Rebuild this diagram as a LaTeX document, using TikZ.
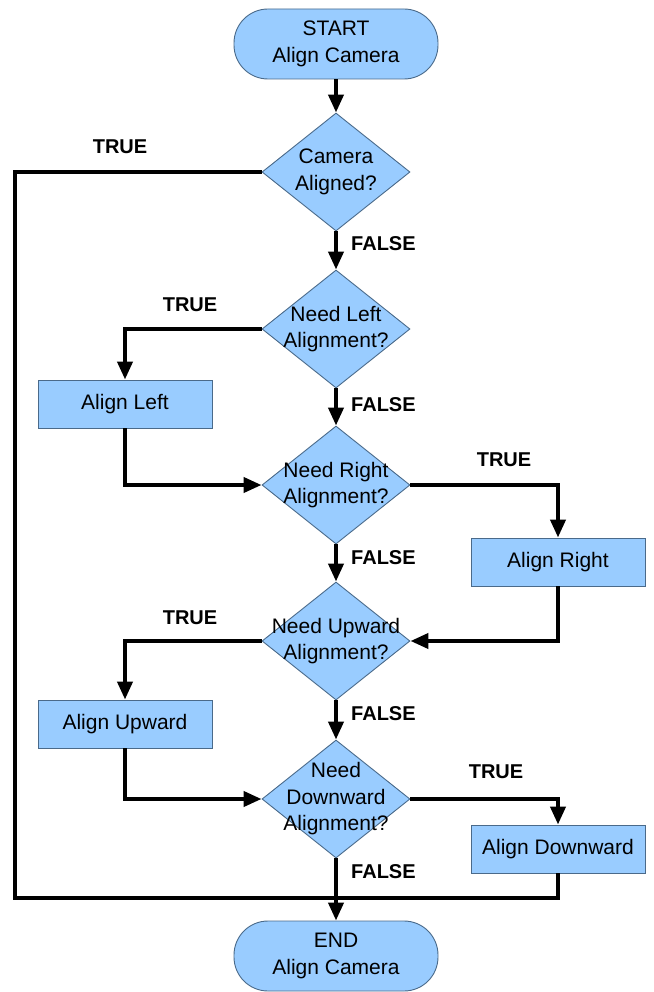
\documentclass[tikz,border=0pt]{standalone}
\usepackage{fontspec}
\setmainfont{Liberation Sans}
\usetikzlibrary{arrows.meta,shapes.geometric}
\definecolor{boxfill}{HTML}{99CCFF}
\definecolor{boxline}{HTML}{4A6A8A}
\begin{document}
\begin{tikzpicture}[x=1pt,y=-1pt,
  every node/.style={font=\fontsize{21}{26.5}\selectfont},
  term/.style={draw=boxline,fill=boxfill,line width=0.9pt,rounded corners=34pt,
    minimum width=204pt,minimum height=70pt,align=center,inner sep=0pt},
  proc/.style={draw=boxline,fill=boxfill,line width=0.9pt,
    minimum width=174pt,minimum height=48pt,inner sep=0pt},
  dia/.style={diamond,draw=boxline,fill=boxfill,line width=0.9pt,inner sep=0pt,
    minimum width=148pt,minimum height=118pt},
  dtext/.style={align=center,inner sep=0pt,font=\fontsize{21}{26.5}\selectfont},
  flow/.style={line width=4pt},
  arr/.style={flow,-{Triangle[length=18pt,width=15pt]}},
  lbl/.style={font=\fontsize{20}{24}\selectfont\bfseries,inner sep=0pt}]
\useasboundingbox (0,0) rectangle (653,992);

% terminals
\node[term] (s) at (336,44) {START\\Align Camera};
\node[term] (e) at (336,956) {END\\Align Camera};

% decisions
\node[dia,label={[dtext]center:{Camera\\Aligned?}}] (d1) at (336,172) {};
\node[dia,label={[dtext]center:{Need Left\\Alignment?}}] (d2) at (336,329) {};
\node[dia,label={[dtext]center:{Need Right\\Alignment?}}] (d3) at (336,485) {};
\node[dia,label={[dtext]center:{Need Upward\\Alignment?}}] (d4) at (336,641) {};
\node[dia,label={[dtext]center:{Need\\Downward\\Alignment?}}] (d5) at (336,799) {};

% actions
\node[proc] (al) at (125,404) {Align Left};
\node[proc] (ar) at (558,562) {Align Right};
\node[proc] (au) at (125,724) {Align Upward};
\node[proc] (ad) at (558,849) {Align Downward};

% junction above END
\coordinate (j) at (336,898);
\coordinate (lc) at (15,898);

% main spine
\draw[arr] (s.south) -- (d1.north);
\draw[arr] (d1.south) -- (d2.north);
\draw[arr] (d2.south) -- (d3.north);
\draw[arr] (d3.south) -- (d4.north);
\draw[arr] (d4.south) -- (d5.north);
\draw[arr] (d5.south) -- (e.north);

% branches
\draw[flow] (d1.west) -| (lc) -- (j);
\draw[arr] (d2.west) -| (al.north);
\draw[arr] (al.south) |- (d3.west);
\draw[arr] (d3.east) -| (ar.north);
\draw[arr] (ar.south) |- (d4.east);
\draw[arr] (d4.west) -| (au.north);
\draw[arr] (au.south) |- (d5.west);
\draw[arr] (d5.east) -| (ad.north);
\draw[flow] (ad.south) |- (j);

% branch labels
\node[lbl] (t1) at (120,147) {TRUE};
\node[lbl] (t2) at (190,305) {TRUE};
\node[lbl] (t3) at (504,460) {TRUE};
\node[lbl] (t4) at (190,618) {TRUE};
\node[lbl] (t5) at (496,772) {TRUE};
\node[lbl,anchor=west] (f1) at (351,244) {FALSE};
\node[lbl,anchor=west] (f2) at (351,405) {FALSE};
\node[lbl,anchor=west] (f3) at (351,558) {FALSE};
\node[lbl,anchor=west] (f4) at (351,714) {FALSE};
\node[lbl,anchor=west] (f5) at (351,872) {FALSE};
\end{tikzpicture}
\end{document}
